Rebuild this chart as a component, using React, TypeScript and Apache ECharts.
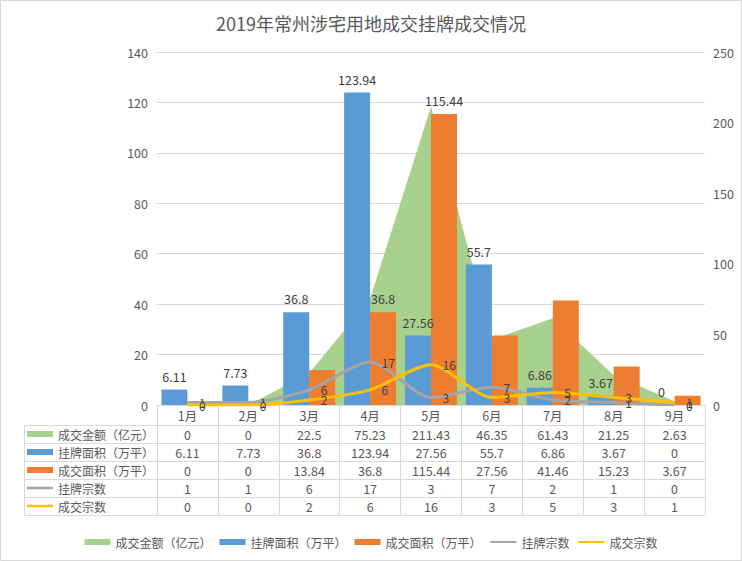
import React, { useEffect, useRef } from "react";
import * as echarts from "echarts";

const months = ["1月", "2月", "3月", "4月", "5月", "6月", "7月", "8月", "9月"];
const dealAmount = [0, 0, 22.5, 75.23, 211.43, 46.35, 61.43, 21.25, 2.63];
const listedArea = [6.11, 7.73, 36.8, 123.94, 27.56, 55.7, 6.86, 3.67, 0];
const dealArea = [0, 0, 13.84, 36.8, 115.44, 27.56, 41.46, 15.23, 3.67];
const listedCount = [1, 1, 6, 17, 3, 7, 2, 1, 0];
const dealCount = [0, 0, 2, 6, 16, 3, 5, 3, 1];
const seriesNames = ["成交金额（亿元）", "挂牌面积（万平）", "成交面积（万平）", "挂牌宗数", "成交宗数"];
const dealAreaLabelMonths = ["4月", "5月"];
const leftAxis = { min: 0, max: 140, interval: 20 };
const rightAxis = { min: 0, max: 250, interval: 50 };
const title = "2019年常州涉宅用地成交挂牌成交情况";

const COLORS = ["#A9D18E", "#5B9BD5", "#ED7D31", "#A5A5A5", "#FFC000"];
const TEXT = "#595959";
const LABEL = "#404040";
const GRIDC = "#D9D9D9";
const FONT = "'Noto Sans CJK SC', 'Noto Sans', sans-serif";

const W = 742;
const H = 561;
const G_LEFT = 157;
const G_RIGHT = 705;
const G_TOP = 52;
const G_BOTTOM = 405;
const CAT_ROW = 20;
const ROW_H = 18;
const TABLE_LEFT = 24;

export default function App() {
  const ref = useRef<HTMLDivElement>(null);
  useEffect(() => {
    if (!ref.current) return;
    const chart = echarts.init(ref.current, null, { renderer: "svg" });
    const rows = [dealAmount, listedArea, dealArea, listedCount, dealCount];
    const tableTop = G_BOTTOM + CAT_ROW;
    const tableBottom = tableTop + ROW_H * rows.length;

    const graphics: any[] = [
      {
        type: "rect",
        shape: { x: 0.5, y: 0.5, width: W - 1, height: H - 1 },
        style: { fill: "none", stroke: GRIDC, lineWidth: 1 },
        silent: true,
      },
    ];
    for (let k = 0; k <= rows.length; k++) {
      const y = tableTop + ROW_H * k + 0.5;
      graphics.push({
        type: "line",
        shape: { x1: TABLE_LEFT, y1: y, x2: G_RIGHT, y2: y },
        style: { stroke: GRIDC, lineWidth: 1 },
        silent: true,
      });
    }
    graphics.push({
      type: "line",
      shape: { x1: TABLE_LEFT + 0.5, y1: tableTop, x2: TABLE_LEFT + 0.5, y2: tableBottom },
      style: { stroke: GRIDC, lineWidth: 1 },
      silent: true,
    });
    seriesNames.forEach((name, k) => {
      const cy = tableTop + ROW_H * k + ROW_H / 2;
      if (k < 3) {
        graphics.push({
          type: "rect",
          shape: { x: 27, y: cy - 3, width: 26, height: 6 },
          style: { fill: COLORS[k] },
          silent: true,
        });
      } else {
        graphics.push({
          type: "line",
          shape: { x1: 27, y1: cy, x2: 53, y2: cy },
          style: { stroke: COLORS[k], lineWidth: 2.5 },
          silent: true,
        });
      }
      graphics.push({
        type: "text",
        x: 58,
        y: cy,
        style: {
          text: name,
          fill: TEXT,
          fontSize: 12,
          fontFamily: FONT,
          verticalAlign: "middle",
          align: "left",
        },
        silent: true,
      });
    });

    const lineLabel = {
      show: true,
      position: "right",
      distance: 11,
      color: LABEL,
      fontSize: 12,
      fontFamily: FONT,
    };

    chart.setOption({
      animation: false,
      backgroundColor: "#FFFFFF",
      textStyle: { fontFamily: FONT },
      title: {
        text: title,
        left: "center",
        top: 9,
        textStyle: { color: TEXT, fontSize: 18, fontWeight: "normal", fontFamily: FONT },
      },
      legend: {
        top: 531,
        left: "center",
        itemWidth: 26,
        itemHeight: 6,
        itemGap: 8,
        textStyle: { color: TEXT, fontSize: 12, fontFamily: FONT },
        data: [
          { name: seriesNames[0], icon: "rect" },
          { name: seriesNames[1], icon: "rect" },
          { name: seriesNames[2], icon: "rect" },
          { name: seriesNames[3], itemStyle: { color: "transparent", opacity: 0 } },
          { name: seriesNames[4], itemStyle: { color: "transparent", opacity: 0 } },
        ],
      },
      grid: {
        left: G_LEFT,
        right: W - G_RIGHT,
        top: G_TOP,
        bottom: H - G_BOTTOM,
        containLabel: false,
      },
      xAxis: [
        {
          type: "category",
          data: months,
          position: "bottom",
          axisLine: { show: true, lineStyle: { color: GRIDC } },
          axisTick: {
            show: true,
            length: CAT_ROW + ROW_H * rows.length,
            lineStyle: { color: GRIDC },
          },
          axisLabel: { color: TEXT, fontSize: 12.5, margin: 4, interval: 0 },
          splitLine: { show: false },
        },
        ...rows.map((row, k) => ({
          type: "category",
          data: months,
          position: "bottom",
          offset: CAT_ROW + ROW_H * k,
          axisLine: { show: false },
          axisTick: { show: false },
          splitLine: { show: false },
          axisLabel: {
            color: TEXT,
            fontSize: 12.5,
            margin: 3,
            interval: 0,
            formatter: (_v: string, i: number) => String(row[i]),
          },
        })),
      ],
      yAxis: [
        {
          type: "value",
          min: leftAxis.min,
          max: leftAxis.max,
          interval: leftAxis.interval,
          axisLine: { show: false },
          axisTick: { show: false },
          axisLabel: { color: TEXT, fontSize: 12.5, margin: 9 },
          splitLine: { show: true, lineStyle: { color: GRIDC } },
        },
        {
          type: "value",
          min: rightAxis.min,
          max: rightAxis.max,
          interval: rightAxis.interval,
          axisLine: { show: false },
          axisTick: { show: false },
          axisLabel: { color: TEXT, fontSize: 12.5, margin: 8 },
          splitLine: { show: false },
        },
      ],
      series: [
        {
          name: seriesNames[0],
          type: "line",
          xAxisIndex: 0,
          yAxisIndex: 1,
          data: dealAmount,
          symbol: "none",
          lineStyle: { width: 0, color: COLORS[0] },
          itemStyle: { color: COLORS[0] },
          areaStyle: { color: COLORS[0], opacity: 1 },
          z: 1,
        },
        {
          name: seriesNames[1],
          type: "bar",
          xAxisIndex: 0,
          yAxisIndex: 0,
          data: listedArea,
          barWidth: 26,
          barGap: "0%",
          itemStyle: { color: COLORS[1] },
          label: { show: true, position: "top", distance: 7, color: LABEL, fontSize: 12.5 },
          z: 2,
        },
        {
          name: seriesNames[2],
          type: "bar",
          xAxisIndex: 0,
          yAxisIndex: 0,
          data: dealArea.map((v, i) => ({
            value: v,
            label: { show: dealAreaLabelMonths.includes(months[i]) },
          })),
          barWidth: 26,
          barGap: "0%",
          itemStyle: { color: COLORS[2] },
          label: { show: true, position: "top", distance: 7, color: LABEL, fontSize: 12.5 },
          z: 2,
        },
        {
          name: seriesNames[3],
          type: "line",
          xAxisIndex: 0,
          yAxisIndex: 0,
          data: listedCount,
          symbol: "circle",
          symbolSize: 1,
          showSymbol: true,
          smooth: 0.25,
          lineStyle: { width: 3, color: COLORS[3] },
          itemStyle: { color: "transparent", borderWidth: 0 },
          label: lineLabel,
          z: 3,
        },
        {
          name: seriesNames[4],
          type: "line",
          xAxisIndex: 0,
          yAxisIndex: 0,
          data: dealCount,
          symbol: "circle",
          symbolSize: 1,
          showSymbol: true,
          smooth: 0.25,
          lineStyle: { width: 3, color: COLORS[4] },
          itemStyle: { color: "transparent", borderWidth: 0 },
          label: lineLabel,
          z: 4,
        },
      ],
      graphic: graphics,
    });
    return () => chart.dispose();
  }, []);
  return (
    <div
      ref={ref}
      style={{ position: "fixed", left: 0, top: 0, width: W, height: H, background: "#fff" }}
    />
  );
}
